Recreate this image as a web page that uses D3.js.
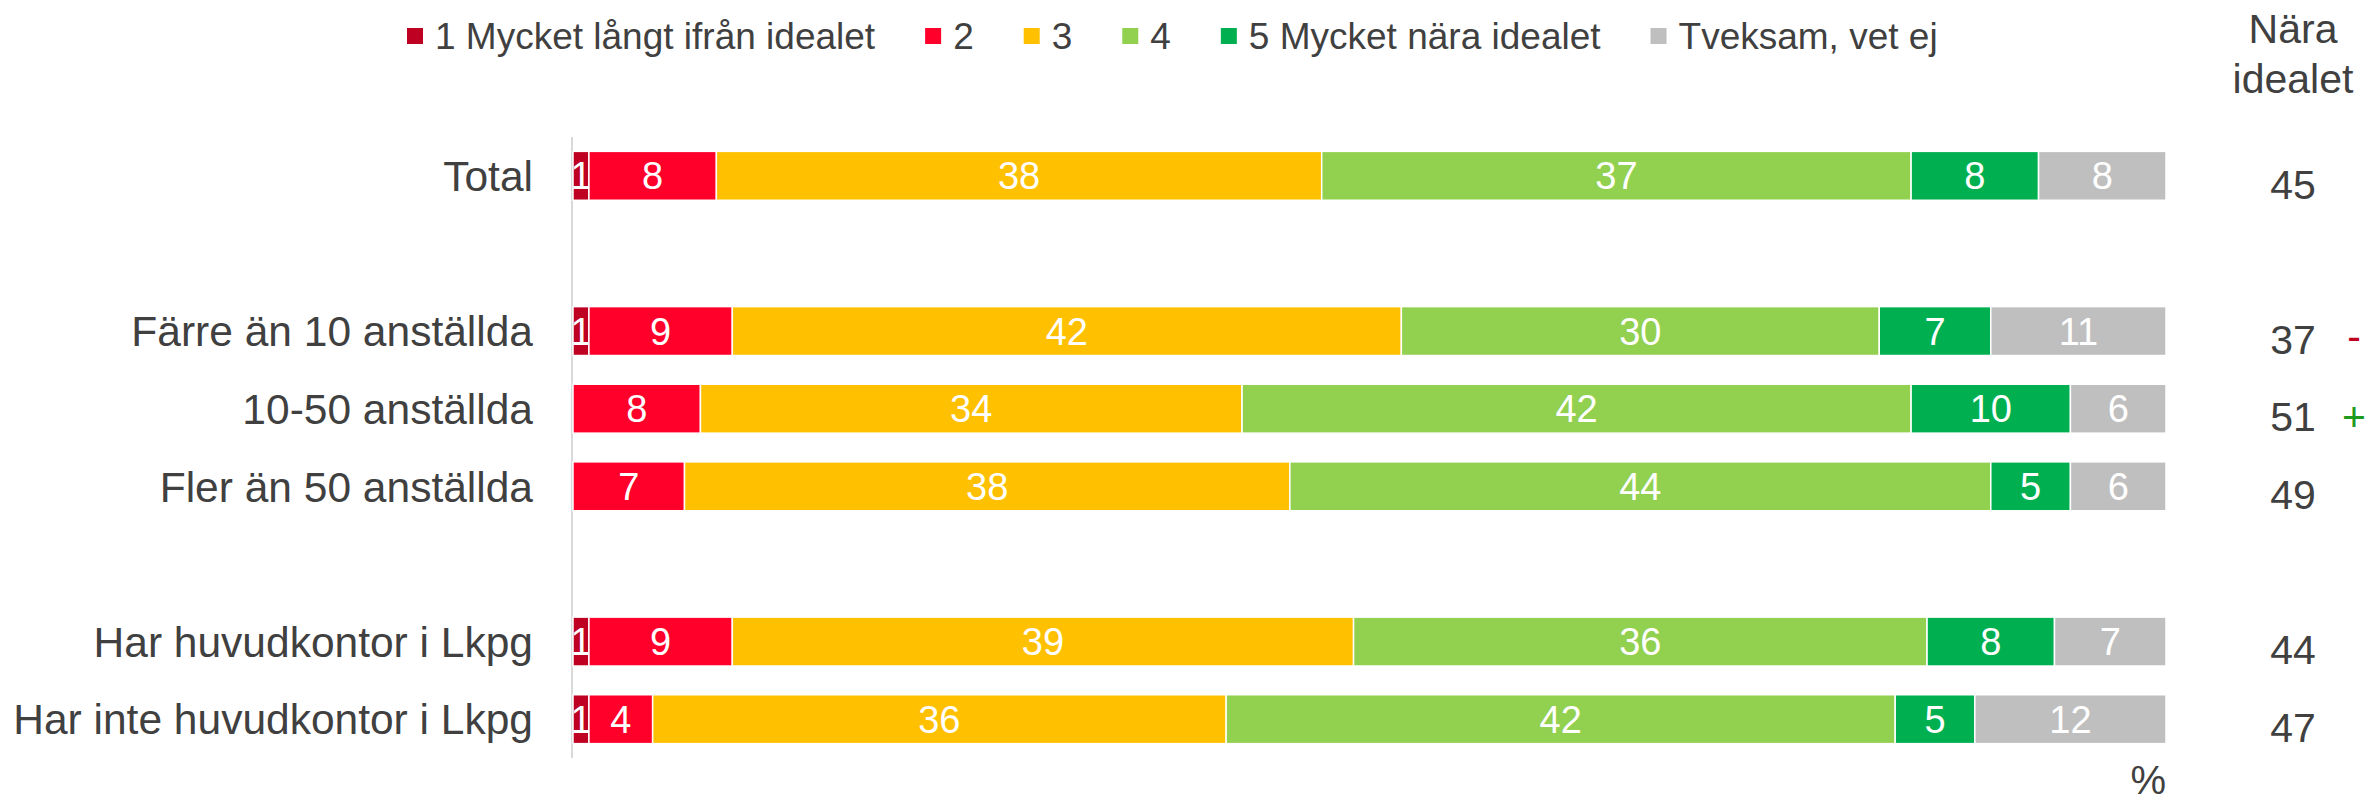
<!DOCTYPE html>
<html>
<head>
<meta charset="utf-8">
<script src="https://cdn.jsdelivr.net/npm/d3@7"></script>
<style>
  html, body { margin: 0; padding: 0; background: #fff; }
  svg { display: block; font-family: "Liberation Sans", Arial, sans-serif; }
</style>
</head>
<body>
<svg id="chart" width="2369" height="802"></svg>
<script>
// Row labels (empty spacer rows separate the groups)
const categories = [
  "Total",
  "Färre än 10 anställda",
  "10-50 anställda",
  "Fler än 50 anställda",
  "Har huvudkontor i Lkpg",
  "Har inte huvudkontor i Lkpg"
];
const rowOrder = ["Total", "spacer-1", "Färre än 10 anställda", "10-50 anställda",
  "Fler än 50 anställda", "spacer-2", "Har huvudkontor i Lkpg", "Har inte huvudkontor i Lkpg"];

// Answer scale, percent per row
const seriesNames = ["1 Mycket långt ifrån idealet", "2", "3", "4", "5 Mycket nära idealet", "Tveksam, vet ej"];
const s1 = [1, 1, 0, 0, 1, 1];
const s2 = [8, 9, 8, 7, 9, 4];
const s3 = [38, 42, 34, 38, 39, 36];
const s4 = [37, 30, 42, 44, 36, 42];
const s5 = [8, 7, 10, 5, 8, 5];
const s6 = [8, 11, 6, 6, 7, 12];

// "Nära idealet" (4 + 5) and significance markers
const nearIdeal = [45, 37, 51, 49, 44, 47];
const significance = ["", "-", "+", "", "", ""];

const colors = ["#BE0022", "#FF002B", "#FFC000", "#92D050", "#00B050", "#BFBFBF"];
const textColor = "#404040";

const svg = d3.select("#chart");
const seriesValues = [s1, s2, s3, s4, s5, s6];
const rows = categories.map((c, i) => {
  const r = { category: c };
  seriesNames.forEach((s, k) => { r[s] = seriesValues[k][i]; });
  return r;
});

const x = d3.scaleLinear().domain([0, 100]).range([573, 2166]);
const y = d3.scaleBand().domain(rowOrder).range([137, 758])
  .paddingInner(0.37).paddingOuter(0.185);

const stacked = d3.stack().keys(seriesNames)(rows);

// vertical axis line
svg.append("line")
  .attr("x1", x(0) - 1).attr("x2", x(0) - 1)
  .attr("y1", y.range()[0]).attr("y2", y.range()[1])
  .attr("stroke", "#D9D9D9").attr("stroke-width", 2);

// category labels
svg.append("g").selectAll("text").data(categories).join("text")
  .attr("x", 533)
  .attr("y", d => y(d) + y.bandwidth() / 2)
  .attr("dy", "0.36em")
  .attr("text-anchor", "end")
  .attr("font-size", 42.5)
  .attr("fill", textColor)
  .text(d => d);

// bar segments
const layers = svg.append("g").selectAll("g").data(stacked).join("g")
  .attr("fill", (d, i) => colors[i]);

layers.selectAll("rect").data(d => d.filter(p => p[1] - p[0] > 0)).join("rect")
  .attr("x", p => x(p[0]))
  .attr("y", p => y(p.data.category))
  .attr("width", p => x(p[1]) - x(p[0]))
  .attr("height", y.bandwidth())
  .attr("stroke", "#fff")
  .attr("stroke-width", 1.5);

// value labels inside segments
layers.selectAll("text").data(d => d.filter(p => p[1] - p[0] > 0)).join("text")
  .attr("x", p => x((p[0] + p[1]) / 2))
  .attr("y", p => y(p.data.category) + y.bandwidth() / 2)
  .attr("dy", "0.36em")
  .attr("text-anchor", "middle")
  .attr("font-size", 38)
  .attr("fill", "#fff")
  .text(p => p[1] - p[0]);

// legend
const legend = svg.append("g");
let lx = 407;
seriesNames.forEach((name, i) => {
  legend.append("rect")
    .attr("x", lx).attr("y", 28).attr("width", 16).attr("height", 16)
    .attr("fill", colors[i]);
  const t = legend.append("text")
    .attr("x", lx + 28).attr("y", 49)
    .attr("font-size", 37)
    .attr("fill", textColor)
    .text(name);
  lx += 28 + t.node().getComputedTextLength() + 50;
});

// right-hand column: "Nära idealet"
const colX = 2293;
svg.append("text").attr("x", colX).attr("y", 43).attr("text-anchor", "middle")
  .attr("font-size", 41).attr("fill", textColor).text("Nära");
svg.append("text").attr("x", colX).attr("y", 93).attr("text-anchor", "middle")
  .attr("font-size", 41).attr("fill", textColor).text("idealet");

svg.append("g").selectAll("text").data(categories).join("text")
  .attr("x", colX)
  .attr("y", d => y(d) + y.bandwidth() / 2 + 8)
  .attr("dy", "0.36em")
  .attr("text-anchor", "middle")
  .attr("font-size", 41)
  .attr("fill", textColor)
  .text((d, i) => nearIdeal[i]);

svg.append("g").selectAll("text").data(categories).join("text")
  .attr("x", 2354)
  .attr("y", (d, i) => y(d) + y.bandwidth() / 2 + (significance[i] === "+" ? 8 : 4))
  .attr("dy", "0.36em")
  .attr("text-anchor", "middle")
  .attr("font-size", 41)
  .attr("fill", (d, i) => significance[i] === "+" ? "#1E9A1E" : "#C00020")
  .text((d, i) => significance[i]);

// unit label
svg.append("text").attr("x", x(100)).attr("y", 794).attr("text-anchor", "end")
  .attr("font-size", 40).attr("fill", textColor).text("%");
</script>
</body>
</html>
